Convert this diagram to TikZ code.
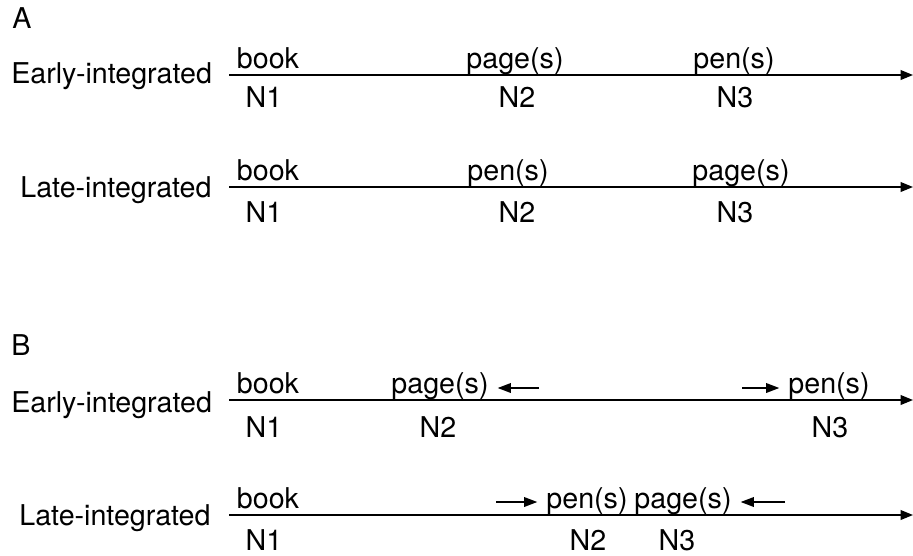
\documentclass[tikz,border=0pt]{standalone}
\usepackage{fontspec}
\setmainfont{TeX Gyre Heros}
\usetikzlibrary{arrows.meta}

\begin{document}
\begin{tikzpicture}[
    x=0.02cm, y=-0.02cm,
    font=\fontsize{16.3}{19}\selectfont,
    timeline/.style={line width=0.8pt, -{Triangle[length=7pt, width=5.5pt]}},
    shiftarrow/.style={line width=0.8pt, -{Triangle[length=7.5pt, width=5.5pt]}},
    word/.style={anchor=base, inner xsep=5pt, inner ysep=0pt},
    rowname/.style={anchor=base west, inner sep=0pt},
    panel/.style={anchor=base west, inner sep=0pt},
  ]
    \useasboundingbox (0,0) rectangle (913,555);

    % Panel A
    \node[panel] (pa) at (12,28) {A};
    % early-integrated order
    \node[rowname] (a1name) at (11,83) {Early-integrated};
    \coordinate (a1start) at (229,75);
    \coordinate (a1end) at (913,75);
    \draw[timeline] (a1start) -- (a1end);
    \node[word] (a1book) at (268,68) {book};
    \node[word] (a1page) at (515,68) {page(s)};
    \node[word] (a1pen) at (734,68) {pen(s)};
    \node[word] (a1n1) at (264,107) {N1};
    \node[word] (a1n2) at (517,107) {N2};
    \node[word] (a1n3) at (735,107) {N3};
    % late-integrated order
    \node[rowname] (a2name) at (20,197) {Late-integrated};
    \coordinate (a2start) at (229,187);
    \coordinate (a2end) at (913,187);
    \draw[timeline] (a2start) -- (a2end);
    \node[word] (a2book) at (268,180) {book};
    \node[word] (a2pen) at (508,180) {pen(s)};
    \node[word] (a2page) at (741,180) {page(s)};
    \node[word] (a2n1) at (264,222) {N1};
    \node[word] (a2n2) at (517,222) {N2};
    \node[word] (a2n3) at (735,222) {N3};

    % Panel B
    \node[panel] (pb) at (11,355) {B};
    % early-integrated: nouns pulled apart
    \node[rowname] (b1name) at (11,412) {Early-integrated};
    \coordinate (b1start) at (229,400);
    \coordinate (b1end) at (913,400);
    \draw[timeline] (b1start) -- (b1end);
    \node[word] (b1book) at (268,393) {book};
    \node[word] (b1page) at (440,393) {page(s)};
    \node[word] (b1pen) at (829,393) {pen(s)};
    \node[word] (b1n1) at (264,437) {N1};
    \node[word] (b1n2) at (438,437) {N2};
    \node[word] (b1n3) at (830,437) {N3};
    \coordinate (b1pagetail) at (539,388);
    \draw[shiftarrow] (b1pagetail) -- (b1pagetail -| b1page.east);
    \coordinate (b1pentail) at (742,388);
    \draw[shiftarrow] (b1pentail) -- (b1pentail -| b1pen.west);
    % late-integrated: nouns pushed together
    \node[rowname] (b2name) at (19,525) {Late-integrated};
    \coordinate (b2start) at (229,515);
    \coordinate (b2end) at (913,515);
    \draw[timeline] (b2start) -- (b2end);
    \node[word] (b2book) at (268,508) {book};
    \node[word] (b2pen) at (587,508) {pen(s)};
    \node[word] (b2page) at (683,508) {page(s)};
    \node[word] (b2n1) at (264,550) {N1};
    \node[word] (b2n2) at (588,550) {N2};
    \node[word] (b2n3) at (677,550) {N3};
    \coordinate (b2pentail) at (496,502);
    \draw[shiftarrow] (b2pentail) -- (b2pentail -| b2pen.west);
    \coordinate (b2pagetail) at (785,502);
    \draw[shiftarrow] (b2pagetail) -- (b2pagetail -| b2page.east);
  \end{tikzpicture}
\end{document}
